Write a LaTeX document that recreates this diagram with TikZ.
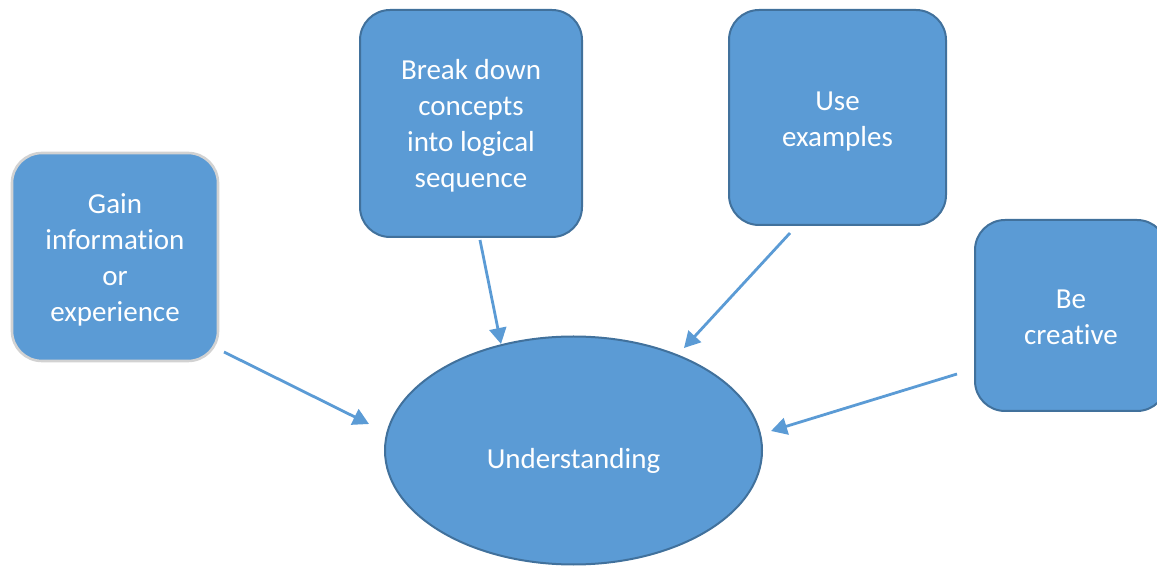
\documentclass[tikz,border=0pt]{standalone}
\usepackage{fontspec}
\setmainfont{Carlito}[Ligatures=NoCommon]
\usetikzlibrary{arrows.meta,shapes.geometric}
\definecolor{boxfill}{HTML}{5B9BD5}
\definecolor{boxline}{HTML}{41719C}
\definecolor{grayline}{HTML}{D2D2D2}
\tikzset{
  box/.style={draw=boxline, line width=1pt, fill=boxfill, rounded corners=15pt,
    text=white, align=center, inner sep=0pt,
    font=\fontsize{14.5}{18}\selectfont},
  oval/.style={ellipse, draw=boxline, line width=1pt, fill=boxfill, text=white,
    inner sep=0pt, font=\fontsize{14.5}{18}\selectfont},
  conn/.style={draw=boxfill, line width=1.4pt,
    -{Triangle[length=8pt,width=8.5pt]}}
}
\newcommand{\mylines}[2]{\raisebox{#1}[\height][\depth]{\begin{tabular}{@{}c@{}}#2\end{tabular}}}
\begin{document}
\begin{tikzpicture}[x=0.5pt,y=-0.5pt]
\useasboundingbox (0,0) rectangle (1157,566);
\node[box, draw=grayline, line width=1.3pt, minimum width=103pt, minimum height=104pt] (b1) at (115,257) {\mylines{-1.6pt}{Gain\\information\\or\\experience}};
\node[box, minimum width=111pt, minimum height=113.5pt] (b2) at (471,123.5) {\mylines{-1.5pt}{Break down\\concepts\\into logical\\sequence}};
\node[box, minimum width=108.5pt, minimum height=107.5pt] (b3) at (837.5,117.5) {\mylines{-2pt}{Use\\examples}};
\node[box, minimum width=96pt, minimum height=95.5pt] (b4) at (1071,315.5) {\mylines{-2pt}{Be\\creative}};
\node[oval, minimum width=188.5pt, minimum height=114pt] (u) at (573.5,450.5) {\raisebox{-5pt}[\height][\depth]{Understanding}};
\coordinate (a1s) at (224,352);
\coordinate (a1e) at (369,424);
\coordinate (a2s) at (480,240);
\coordinate (a2e) at (501,344);
\coordinate (a3s) at (790,233);
\coordinate (a3e) at (684,348);
\coordinate (a4s) at (957,374);
\coordinate (a4e) at (771,431);
\draw[conn] (a1s) -- (a1e);
\draw[conn] (a2s) -- (a2e);
\draw[conn] (a3s) -- (a3e);
\draw[conn] (a4s) -- (a4e);
\end{tikzpicture}
\end{document}
